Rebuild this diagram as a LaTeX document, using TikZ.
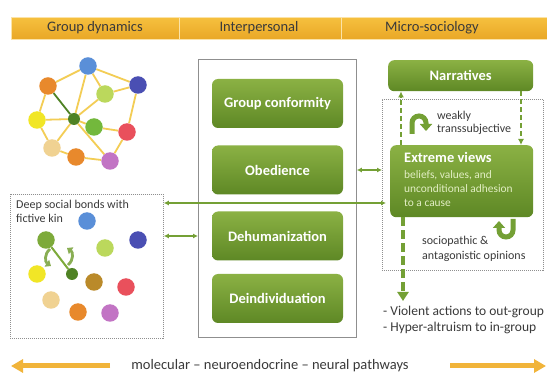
\documentclass[tikz,border=0pt]{standalone}
\usepackage{fontspec}
\setmainfont{Carlito}
\usetikzlibrary{arrows.meta,calc,backgrounds}

\definecolor{hdtop}{HTML}{F6C03E}
\definecolor{hdbot}{HTML}{E9A726}
\definecolor{boxtop}{HTML}{8BB144}
\definecolor{boxbot}{HTML}{5E8825}
\definecolor{leaf}{HTML}{74A035}
\definecolor{linkgold}{HTML}{F3CD55}
\definecolor{framegray}{HTML}{8F8F8F}
\definecolor{txtgray}{HTML}{3A3A3A}
\definecolor{paletxt}{HTML}{E2EEC4}
\definecolor{pathgold}{HTML}{F1B43A}
\definecolor{cblue}{HTML}{5A8FD8}
\definecolor{corange}{HTML}{E8892C}
\definecolor{cnavy}{HTML}{4A4FB3}
\definecolor{clime}{HTML}{BBD85C}
\definecolor{cyellow}{HTML}{F1E626}
\definecolor{cdkgreen}{HTML}{4F8224}
\definecolor{cgreen}{HTML}{73B83C}
\definecolor{cred}{HTML}{E9505C}
\definecolor{cbeige}{HTML}{F0D292}
\definecolor{cpurple}{HTML}{C274C4}
\definecolor{cochre}{HTML}{BA8A2A}
\definecolor{colive}{HTML}{7DAA3A}

\newcommand\hdfont{\fontsize{14.5pt}{17pt}\selectfont}
\newcommand\bxfont{\fontsize{14.5pt}{17pt}\selectfont\bfseries}
\newcommand\smfont{\fontsize{12pt}{14pt}\selectfont}
\newcommand\exfont{\fontsize{11.4pt}{14pt}\selectfont}
\newcommand\lsfont{\fontsize{13.5pt}{16pt}\selectfont}

\tikzset{
  hdcell/.style={rectangle, top color=hdtop, bottom color=hdbot, draw=white!55!hdtop,
    line width=0.8pt, minimum height=22pt, inner sep=0pt, anchor=north west},
  greenbox/.style={rectangle, rounded corners=6pt, top color=boxtop, bottom color=boxbot,
    text=white, font=\bxfont, inner sep=0pt, minimum width=131pt, minimum height=49pt},
  dot/.style={circle, inner sep=0pt, minimum size=17.5pt},
  smalldot/.style={circle, inner sep=0pt, minimum size=12pt},
  link/.style={draw=linkgold, line width=1.8pt},
  solidframe/.style={rectangle, draw=framegray, line width=0.8pt, inner sep=0pt, anchor=north west},
  dottedframe/.style={rectangle, draw=framegray, line width=0.8pt, dash pattern=on 1pt off 1pt,
    inner sep=0pt, anchor=north west},
  biarrow/.style={draw=leaf, line width=1.6pt, {Latex[length=5pt,width=5pt]}-{Latex[length=5pt,width=5pt]}},
  flowdash/.style={draw=leaf, line width=1.8pt, dash pattern=on 5pt off 3pt, -{Latex[length=6pt,width=6pt]}},
  bigdash/.style={draw=leaf, line width=4pt, dash pattern=on 9pt off 4pt, -{Triangle[length=9pt,width=11pt]}},
  turn/.style={draw=leaf, line width=5pt, -{Triangle[length=7pt,width=12pt]}},
  spin/.style={draw=leaf!85!white, line width=2.8pt, -{Triangle[length=5pt,width=8pt]}},
  pathway/.style={draw=pathgold, line width=5pt, -{Triangle[length=12pt,width=13pt]}},
  lbl/.style={text=txtgray, inner sep=0pt, anchor=base west},
}

\begin{document}
\begin{tikzpicture}[x=1pt,y=-1pt]
\begin{scope}[on background layer]
  \fill[white] (0,0) rectangle (547,374);
\end{scope}
\useasboundingbox (0,0) rectangle (547,374);

% ---- column headers ----
\node[hdcell, minimum width=168pt] (hdA) at (11,17) {};
\node[hdcell, minimum width=162pt] (hdB) at (179,17) {};
\node[hdcell, minimum width=212pt] (hdC) at (341,17) {};
\node[text=txtgray, font=\hdfont, inner sep=0pt] (hdAtxt) at (95,28) {Group dynamics};
\node[text=txtgray, font=\hdfont, inner sep=0pt] (hdBtxt) at (259,28) {Interpersonal};
\node[text=txtgray, font=\hdfont, inner sep=0pt] (hdCtxt) at (432,28) {Micro-sociology};

% ---- group network ----
\foreach \n/\px/\py/\c in {nBlue/88/66/cblue, nOrange/48/86/corange, nNavy/138/85/cnavy,
    nLime/105/94/clime, nYellow/37/120/cyellow, nGreen/94/127/cgreen, nRed/127/132/cred,
    nBeige/52/148/cbeige, nOrangeB/76/157/corange, nPurple/110/161/cpurple}
  \node[dot, fill=\c] (\n) at (\px,\py) {};
\node[smalldot, fill=cdkgreen] (nHub) at (74,119) {};
\begin{scope}[on background layer]
  \foreach \a/\b in {nBlue/nOrange, nBlue/nNavy, nBlue/nLime, nBlue/nHub, nOrange/nYellow,
      nLime/nNavy, nLime/nHub, nNavy/nRed, nYellow/nHub, nYellow/nBeige, nHub/nGreen,
      nHub/nBeige, nHub/nPurple, nGreen/nRed, nRed/nPurple, nBeige/nOrangeB, nOrangeB/nPurple}
    \draw[link] (\a) -- (\b);
  \draw[draw=cdkgreen, line width=1.8pt] (nOrange) -- (nHub);
\end{scope}

% ---- fictive kin group ----
\node[dottedframe, minimum width=153pt, minimum height=144pt] (leftbox) at (10,194) {};
\node[lbl, font=\smfont] (kinA1) at (16,208.5) {Deep social bonds with};
\node[lbl, font=\smfont] (kinA2) at (16,222.5) {fictive kin};
\foreach \n/\px/\py/\c in {kBlue/87/221/cblue, kNavy/138/240/cnavy, kLime/105/248/clime,
    kYellow/37/274/cyellow, kOchre/94/282/cochre, kRed/126/287/cred, kBeige/51/300/cbeige,
    kOrange/78/312/corange, kPurple/110/313/cpurple}
  \node[dot, fill=\c] (\n) at (\px,\py) {};
\node[dot, fill=colive] (kinA) at (46,240) {};
\node[smalldot, fill=cdkgreen] (kinB) at (72,274) {};
\begin{scope}[on background layer]
  \draw[draw=colive, line width=2pt] (kinA) -- (kinB);
\end{scope}
% rotation marks around the bond
\coordinate (pivot) at ($(kinA)!0.5!(kinB)$);
\draw[spin] ($(pivot)+(-9,-8)$) .. controls ($(pivot)+(-15,-3)$) and ($(pivot)+(-14,5)$) .. ($(pivot)+(-8,9)$);
\draw[spin] ($(pivot)+(9,8)$) .. controls ($(pivot)+(15,3)$) and ($(pivot)+(14,-5)$) .. ($(pivot)+(8,-9)$);

% ---- interpersonal processes ----
\node[solidframe, minimum width=158pt, minimum height=278pt] (midbox) at (198,59) {};
\node[greenbox] (conform) at (277.5,103.5) {Group conformity};
\node[greenbox] (obed) at (277.5,170) {Obedience};
\node[greenbox] (dehum) at (277.5,236) {Dehumanization};
\node[greenbox] (deind) at (277.5,298.5) {Deindividuation};

% ---- micro-sociology ----
\node[dottedframe, minimum width=161pt, minimum height=171pt] (frame) at (382,99) {};
\node[greenbox, anchor=north west, minimum width=145pt, minimum height=31pt] (narr) at (388,60) {Narratives};
\node[greenbox, anchor=north west, minimum width=143pt, minimum height=72pt] (extreme) at (390,145) {};
\node[lbl, font=\bxfont, text=white] (exTitle) at (404,162.5) {Extreme views};
\node[lbl, font=\exfont, text=paletxt] (exL1) at (404,178.5) {beliefs, values, and};
\node[lbl, font=\exfont, text=paletxt] (exL2) at (404,192.5) {unconditional adhesion};
\node[lbl, font=\exfont, text=paletxt] (exL3) at (404,206.5) {to a cause};

\coordinate (upx) at (401,0);
\coordinate (dnx) at (521,0);
\draw[flowdash] (upx |- extreme.north) -- (upx |- narr.south);
\draw[flowdash] (dnx |- narr.south) -- (dnx |- extreme.north);

\draw[turn] (412,134) -- (412,123) arc[start angle=180, end angle=360, radius=7] -- (426,131);
\node[lbl, font=\smfont] (weak1) at (437,120) {weakly};
\node[lbl, font=\smfont] (weak2) at (437,133) {transsubjective};

\draw[turn] (513,219) -- (513,230) arc[start angle=0, end angle=180, radius=7] -- (499,221);
\node[lbl, font=\smfont] (socio1) at (422,245) {sociopathic \&};
\node[lbl, font=\smfont] (socio2) at (422,260) {antagonistic opinions};

\coordinate (outx) at (403,0);
\coordinate (outend) at (403,301);
\draw[bigdash] (outx |- extreme.south) -- (outend);
\node[lbl, font=\lsfont] (outA) at (383,315.5) {- Violent actions to out-group};
\node[lbl, font=\lsfont] (outB) at (383,331.5) {- Hyper-altruism to in-group};

% ---- links between levels ----
\coordinate (bond) at (0,203);
\draw[biarrow] (midbox.east |- obed) -- (frame.west |- obed);
\draw[biarrow] (leftbox.east |- dehum) -- (midbox.west |- dehum);
\draw[biarrow, shorten >=4pt] (leftbox.east |- bond) -- (extreme.west |- bond);

% ---- biological substrate ----
\node[text=txtgray, font=\hdfont, inner sep=0pt, anchor=base] (pathways) at (270,370)
  {molecular \textendash{} neuroendocrine \textendash{} neural pathways};
\coordinate (pwLa) at (110,366);
\coordinate (pwLb) at (11,366);
\coordinate (pwRa) at (450,366);
\coordinate (pwRb) at (546,366);
\draw[pathway] (pwLa) -- (pwLb);
\draw[pathway] (pwRa) -- (pwRb);
\end{tikzpicture}
\end{document}
